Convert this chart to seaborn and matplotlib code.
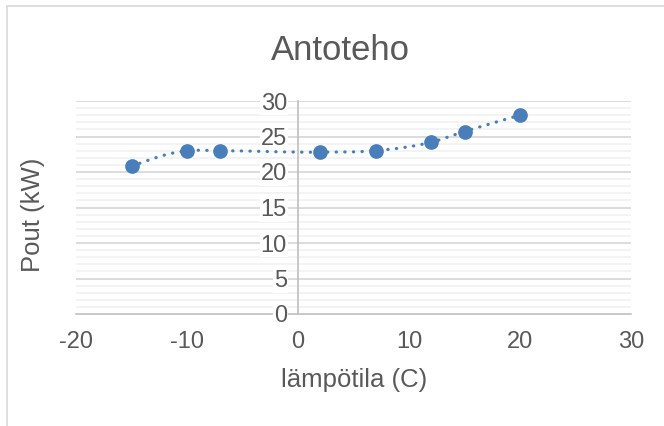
import matplotlib
matplotlib.use("Agg")
import matplotlib.pyplot as plt
from matplotlib.path import Path
from matplotlib.patches import PathPatch
from matplotlib.lines import Line2D
import numpy as np
import pandas as pd
import seaborn as sns

# ---- data ----
temperature = [-15, -10, -7, 2, 7, 12, 15, 20]
power_out = [20.8, 23.0, 23.0, 22.8, 23.0, 24.2, 25.7, 28.0]
x_ticks = [-20, -10, 0, 10, 20, 30]
y_ticks = [0, 5, 10, 15, 20, 25, 30]
title = "Antoteho"
x_label = "lämpötila (C)"
y_label = "Pout (kW)"

df = pd.DataFrame({"t": temperature, "p": power_out})

sns.set_style("white")
plt.rcParams["font.family"] = ["Liberation Sans", "DejaVu Sans"]
plt.rcParams["axes.unicode_minus"] = False

BLUE = "#4a7ebb"
TXT = "#595959"

fig = plt.figure(figsize=(6.64, 4.26), dpi=100)
ax = fig.add_axes([76 / 664, 1 - 314 / 426, 555 / 664, 213 / 426])

xmin, xmax = x_ticks[0], x_ticks[-1]
ymin, ymax = y_ticks[0], y_ticks[-1]
ax.set_xlim(xmin, xmax)
ax.set_ylim(ymin, ymax)

# gridlines (minor every 1, major every 5), drawn below the tick labels
minor_y = [v for v in np.arange(ymin, ymax + 1, 1) if v not in y_ticks]
ax.hlines(minor_y, xmin, xmax, color="#f2f2f2", lw=1.3, zorder=0.5)
ax.hlines(y_ticks[1:], xmin, xmax, color="#d9d9d9", lw=1.3, zorder=0.6)

# smoothed (Excel-like) connecting line: chord-length Catmull-Rom through
# the data points, computed in display space, drawn as cubic Beziers
data_pts = np.column_stack([df["t"].to_numpy(float), df["p"].to_numpy(float)])
P = ax.transData.transform(data_pts)
n = len(P)
d = np.linalg.norm(np.diff(P, axis=0), axis=1)
T = np.zeros_like(P)
for i in range(1, n - 1):
    T[i] = ((P[i] - P[i - 1]) / d[i - 1] - (P[i + 1] - P[i - 1]) / (d[i - 1] + d[i])
            + (P[i + 1] - P[i]) / d[i])
T[0] = (3 * (P[1] - P[0]) / d[0] - T[1]) / 2
T[-1] = (3 * (P[-1] - P[-2]) / d[-1] - T[-2]) / 2
verts = [P[0]]
codes = [Path.MOVETO]
for i in range(n - 1):
    verts += [P[i] + T[i] * d[i] / 3, P[i + 1] - T[i + 1] * d[i] / 3, P[i + 1]]
    codes += [Path.CURVE4] * 3
verts_data = ax.transData.inverted().transform(np.array(verts))
patch = PathPatch(Path(verts_data, codes), fill=False, edgecolor=BLUE, lw=2.3,
                  linestyle=(0, (0.1, 2.6)), capstyle="round", zorder=3)
ax.add_patch(patch)

sns.scatterplot(data=df, x="t", y="p", ax=ax, s=112, color=BLUE,
                edgecolor=BLUE, linewidth=0, zorder=4, legend=False)

ax.set_xlim(xmin, xmax)
ax.set_ylim(ymin, ymax)
ax.set_xticks(x_ticks)
ax.set_yticks(y_ticks)
ax.grid(False)
ax.set_axisbelow(False)

for s in ["top", "right"]:
    ax.spines[s].set_visible(False)
ax.spines["left"].set_position(("data", 0))
ax.spines["left"].set_color("#bfbfbf")
ax.spines["left"].set_linewidth(1.2)
ax.spines["bottom"].set_color("#bfbfbf")
ax.spines["bottom"].set_linewidth(1.2)

ax.tick_params(axis="x", which="major", length=6, width=1.2, color="#bfbfbf",
               labelsize=17, labelcolor=TXT, pad=6, direction="out")
ax.tick_params(axis="y", which="both", length=0, labelsize=17,
               labelcolor=TXT, pad=8)
for lab in ax.get_yticklabels():
    lab.set_bbox(dict(facecolor="white", edgecolor="none", pad=0.5))
ax.set_xlabel("")
ax.set_ylabel("")

fig.text(340 / 664, 1 - 50 / 426, title, ha="center", va="center",
         fontsize=25, color=TXT)
fig.text(354 / 664, 1 - 380 / 426, x_label, ha="center", va="center",
         fontsize=18.5, color=TXT)
fig.text(33 / 664, 1 - 215 / 426, y_label, ha="center", va="center",
         rotation=90, fontsize=18.5, color=TXT)

# outer chart border (partly outside the image, as in the reference)
fig.add_artist(Line2D([7 / 664, 1.0], [1 - 6 / 426] * 2, color="#d9d9d9",
                      lw=1.2, transform=fig.transFigure))
fig.add_artist(Line2D([7 / 664] * 2, [0, 1 - 6 / 426], color="#d9d9d9",
                      lw=1.2, transform=fig.transFigure))

fig.savefig("out.png", dpi=100)
